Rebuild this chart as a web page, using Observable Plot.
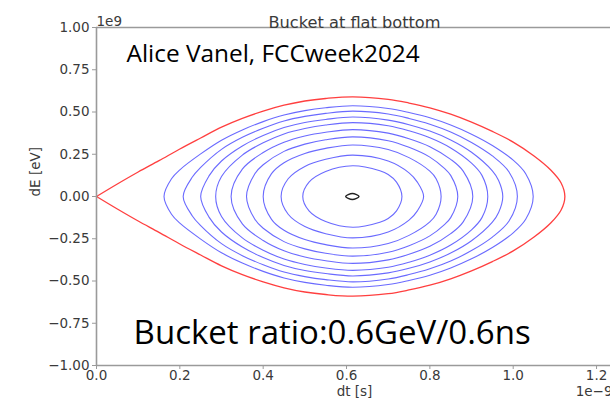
<!DOCTYPE html>
<html>
<head>
<meta charset="utf-8">
<script src="https://cdn.jsdelivr.net/npm/d3@7"></script>
<script src="https://cdn.jsdelivr.net/npm/@observablehq/plot@0.6"></script>
<style>
  html, body { margin: 0; padding: 0; background: #fff; }
</style>
</head>
<body>
<div id="chart"></div>
<script>
// ---- Data (upper halves; the bucket is symmetric in dE) ----
// dt in units of 1e-9 s, dE in units of 1e9 eV
const separatrixTop = [
  [0, 0], [0.05, 0.074], [0.10, 0.145], [0.15, 0.212], [0.20, 0.281], [0.25, 0.346],
  [0.30, 0.410], [0.35, 0.462], [0.40, 0.505], [0.45, 0.540], [0.50, 0.565], [0.55, 0.580],
  [0.615, 0.590], [0.70, 0.575], [0.75, 0.553], [0.80, 0.525], [0.85, 0.487], [0.90, 0.440],
  [0.95, 0.385], [1.00, 0.322], [1.05, 0.240], [1.09, 0.157], [1.115, 0.080], [1.124, 0]
];
const contour1 = [[0.495, 0], [0.51, 0.085], [0.55, 0.148], [0.615, 0.182], [0.68, 0.152], [0.70, 0.130], [0.72, 0.085], [0.733, 0]];
const contour2 = [[0.443, 0], [0.46, 0.105], [0.50, 0.178], [0.55, 0.220], [0.615, 0.245], [0.70, 0.210], [0.75, 0.140], [0.77, 0.085], [0.785, 0]];
const contour3 = [[0.40, 0], [0.42, 0.135], [0.45, 0.200], [0.50, 0.255], [0.55, 0.285], [0.615, 0.305], [0.70, 0.278], [0.75, 0.230], [0.80, 0.150], [0.815, 0.105], [0.827, 0]];
const contour4 = [[0.36, 0], [0.38, 0.135], [0.40, 0.188], [0.45, 0.267], [0.50, 0.310], [0.55, 0.336], [0.615, 0.353], [0.70, 0.330], [0.75, 0.291], [0.80, 0.233], [0.835, 0.166], [0.85, 0.125], [0.867, 0]];
const contour5 = [[0.323, 0], [0.35, 0.162], [0.40, 0.260], [0.45, 0.321], [0.50, 0.358], [0.55, 0.380], [0.615, 0.396], [0.70, 0.375], [0.75, 0.342], [0.80, 0.295], [0.85, 0.220], [0.88, 0.150], [0.903, 0]];
const contour6 = [[0.286, 0], [0.30, 0.118], [0.35, 0.245], [0.40, 0.318], [0.45, 0.370], [0.50, 0.402], [0.55, 0.423], [0.615, 0.437], [0.70, 0.419], [0.75, 0.389], [0.80, 0.347], [0.85, 0.287], [0.90, 0.197], [0.925, 0.125], [0.939, 0]];
const contour7 = [[0.25, 0], [0.27, 0.122], [0.30, 0.210], [0.35, 0.299], [0.40, 0.361], [0.45, 0.408], [0.50, 0.438], [0.55, 0.456], [0.615, 0.470], [0.70, 0.452], [0.75, 0.425], [0.80, 0.387], [0.85, 0.335], [0.90, 0.262], [0.95, 0.152], [0.965, 0.095], [0.975, 0]];
const contour8 = [[0.208, 0], [0.23, 0.115], [0.25, 0.172], [0.30, 0.279], [0.35, 0.350], [0.40, 0.404], [0.45, 0.447], [0.50, 0.474], [0.55, 0.492], [0.615, 0.505], [0.70, 0.488], [0.75, 0.462], [0.80, 0.428], [0.85, 0.382], [0.90, 0.320], [0.95, 0.240], [0.99, 0.145], [1.010, 0]];
const contour9 = [[0.162, 0], [0.18, 0.105], [0.20, 0.158], [0.25, 0.252], [0.30, 0.333], [0.35, 0.394], [0.40, 0.443], [0.45, 0.482], [0.50, 0.508], [0.55, 0.525], [0.615, 0.537], [0.70, 0.521], [0.75, 0.497], [0.80, 0.466], [0.85, 0.423], [0.90, 0.369], [0.95, 0.302], [1.00, 0.215], [1.03, 0.135], [1.048, 0]];
const centreLoop = [[0.598, 0], [0.614, 0.018], [0.630, 0], [0.614, -0.018]];

const xTicks = [0.0, 0.2, 0.4, 0.6, 0.8, 1.0, 1.2];
const yTicks = [-1.00, -0.75, -0.50, -0.25, 0.00, 0.25, 0.50, 0.75, 1.00];

const titleText = "Bucket at flat bottom";
const xLabel = "dt [s]";
const yLabel = "dE [eV]";
const xOffsetText = "1e\u22129";
const yOffsetText = "1e9";
const noteAuthor = "Alice Vanel, FCCweek2024";
const noteRatio = "Bucket ratio:0.6GeV/0.6ns";

// ---- Build the tables ----
const blueContours = [contour1, contour2, contour3, contour4, contour5, contour6, contour7, contour8, contour9];
const loopFromTop = top => [...top, ...top.slice(1, -1).reverse().map(([x, y]) => [x, -y])];
const blueRows = blueContours.flatMap((c, i) => loopFromTop(c).map(([x, y]) => ({id: i, x, y})));
const redRows = [...separatrixTop, ...separatrixTop.slice(0, -1).reverse().map(([x, y]) => [x, -y])]
  .map(([x, y]) => ({x, y}));
const centreRows = centreLoop.map(([x, y]) => ({x, y}));

const minusFmt = s => s.replace("-", "\u2212");

const spine = "#9a9a9a";
const tickText = "#3a3a3a";

const chart = Plot.plot({
  width: 610,
  height: 400,
  marginLeft: 96,
  marginRight: 0,
  marginTop: 27,
  marginBottom: 35,
  style: {fontFamily: "DejaVu Sans", fontSize: "13.5px", background: "#fff", overflow: "visible"},
  x: {domain: [0, 1.2335]},
  y: {domain: [-1, 1]},
  marks: [
    Plot.line(blueRows, {x: "x", y: "y", z: "id", curve: "catmull-rom-closed", stroke: "#5050ff", strokeWidth: 1.1, strokeOpacity: 0.85}),
    Plot.line(redRows, {x: "x", y: "y", curve: "catmull-rom", stroke: "#ff2a2a", strokeWidth: 1.3, strokeOpacity: 0.9}),
    Plot.line(centreRows, {x: "x", y: "y", curve: "catmull-rom-closed", stroke: "#222", strokeWidth: 1.4}),
    Plot.ruleX([0], {stroke: spine, strokeWidth: 1.6}),
    Plot.ruleY([1], {stroke: spine, strokeWidth: 1.6}),
    Plot.ruleY([-1], {stroke: spine, strokeWidth: 1.6}),
    Plot.axisY(yTicks, {tickSize: 4, tickPadding: 3, stroke: spine, fill: tickText, fontSize: 13.5,
      tickFormat: d => minusFmt(d.toFixed(2)), label: null}),
    Plot.axisX(xTicks, {tickSize: 4, tickPadding: 1, stroke: spine, fill: tickText, fontSize: 13.5,
      tickFormat: d => d.toFixed(1), label: null}),
    Plot.text([titleText], {frameAnchor: "top", dx: 1, dy: -11, text: d => d, fill: tickText, fontSize: 16.2}),
    Plot.text([yOffsetText], {frameAnchor: "top-left", textAnchor: "start", lineAnchor: "bottom", dy: -2, text: d => d, fill: tickText, fontSize: 13.5}),
    Plot.text([xOffsetText], {frameAnchor: "bottom-right", textAnchor: "end", dx: 2, dy: 30, text: d => d, fill: tickText, fontSize: 13.5}),
    Plot.text([xLabel], {frameAnchor: "bottom", dx: 1, dy: 30, text: d => d, fill: tickText, fontSize: 13.5}),
    Plot.text([yLabel], {frameAnchor: "left", dx: -61, dy: 0, rotate: -90, text: d => d, fill: tickText, fontSize: 13.5}),
    Plot.text([noteAuthor], {x: () => 0.072, y: () => 0.842, textAnchor: "start", text: d => d, fill: "#000",
      fontSize: 24.4, fontFamily: "Open Sans"}),
    Plot.text([noteRatio], {x: () => 0.089, y: () => -0.81, textAnchor: "start", text: d => d, fill: "#000",
      fontSize: 33, fontFamily: "Open Sans"})
  ]
});
document.getElementById("chart").appendChild(chart);
</script>
</body>
</html>
